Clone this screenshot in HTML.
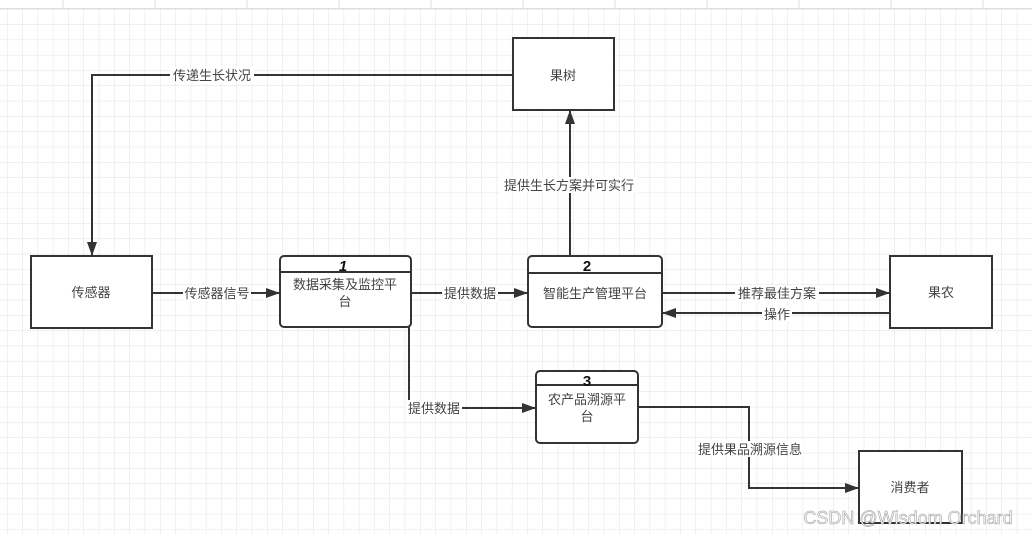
<!DOCTYPE html>
<html><head><meta charset="utf-8"><style>
html,body{margin:0;padding:0;background:#fff;}
body{width:1032px;height:534px;overflow:hidden;}
text{font-family:"Liberation Sans","Noto Sans CJK SC",sans-serif;}
</style></head><body>
<svg width="1032" height="534" xmlns="http://www.w3.org/2000/svg">
<defs>
<pattern id="g" x="7" y="9" width="15.3" height="15.3" patternUnits="userSpaceOnUse">
<path d="M0 0H15.3M0 0V15.3" stroke="#e2e2e2" stroke-width="1" fill="none"/>
</pattern>
<marker id="a" markerWidth="14" markerHeight="10" refX="13" refY="5" orient="auto" markerUnits="userSpaceOnUse">
<path d="M0 0L14 5L0 10Z" fill="#333"/>
</marker>
</defs>
<rect width="1032" height="534" fill="url(#g)"/>
<rect width="1032" height="8" fill="#fff"/>
<line x1="0" y1="8.5" x2="1032" y2="8.5" stroke="#ddd"/>
<g stroke="#ddd"><line x1="63" y1="0" x2="63" y2="8"/><line x1="155" y1="0" x2="155" y2="8"/><line x1="247" y1="0" x2="247" y2="8"/><line x1="339" y1="0" x2="339" y2="8"/><line x1="431" y1="0" x2="431" y2="8"/><line x1="523" y1="0" x2="523" y2="8"/><line x1="615" y1="0" x2="615" y2="8"/><line x1="707" y1="0" x2="707" y2="8"/><line x1="799" y1="0" x2="799" y2="8"/><line x1="891" y1="0" x2="891" y2="8"/><line x1="983" y1="0" x2="983" y2="8"/></g>

<g fill="#fff" stroke="#333" stroke-width="2">
<rect x="513" y="38" width="101" height="72"/>
<rect x="31" y="256" width="121" height="72"/>
<rect x="890" y="256" width="102" height="72"/>
<rect x="859" y="451" width="103" height="72"/>
<rect x="280" y="256" width="131" height="71" rx="4"/>
<rect x="528" y="256" width="134" height="71" rx="4"/>
<rect x="536" y="371" width="102" height="72" rx="4"/>
<line x1="280" y1="272" x2="411" y2="272"/>
<line x1="528" y1="273" x2="662" y2="273"/>
<line x1="536" y1="385" x2="638" y2="385"/>
</g>

<g stroke="#333" stroke-width="2" fill="none">
<polyline points="513,75 92,75 92,255" marker-end="url(#a)"/>
<line x1="152" y1="293" x2="279" y2="293" marker-end="url(#a)"/>
<line x1="411" y1="293" x2="527" y2="293" marker-end="url(#a)"/>
<line x1="570" y1="256" x2="570" y2="111" marker-end="url(#a)"/>
<line x1="662" y1="293" x2="889" y2="293" marker-end="url(#a)"/>
<line x1="890" y1="313" x2="663" y2="313" marker-end="url(#a)"/>
<polyline points="409,327 409,408 535,408" marker-end="url(#a)"/>
<polyline points="638,407 749,407 749,488 858,488" marker-end="url(#a)"/>
</g>

<g font-size="13" fill="#444" text-anchor="middle">
<rect x="170" y="67" width="84" height="16" fill="#fff"/>
<text x="212" y="80">传递生长状况</text>
<rect x="183" y="285" width="68" height="16" fill="#fff"/>
<text x="217" y="298">传感器信号</text>
<rect x="442" y="285" width="56" height="16" fill="#fff"/>
<text x="470" y="298">提供数据</text>
<rect x="500" y="177" width="138" height="16" fill="#fff"/>
<text x="569" y="190">提供生长方案并可实行</text>
<rect x="735" y="285" width="84" height="16" fill="#fff"/>
<text x="777" y="298">推荐最佳方案</text>
<rect x="762" y="306" width="30" height="16" fill="#fff"/>
<text x="777" y="319">操作</text>
<rect x="406" y="400" width="56" height="16" fill="#fff"/>
<text x="434" y="413">提供数据</text>
<rect x="697" y="441" width="106" height="16" fill="#fff"/>
<text x="750" y="454">提供果品溯源信息</text>
<text x="563" y="80">果树</text>
<text x="91" y="297">传感器</text>
<text x="941" y="297">果农</text>
<text x="910" y="492">消费者</text>
<text x="345" y="289">数据采集及监控平</text>
<text x="345" y="306">台</text>
<text x="595" y="298">智能生产管理平台</text>
<text x="587" y="404">农产品溯源平</text>
<text x="587" y="421">台</text>
</g>
<g font-size="15" font-weight="bold" fill="#111" text-anchor="middle">
<text x="343" y="271" font-style="italic">1</text>
<text x="587" y="271">2</text>
<text x="587" y="386">3</text>
</g>
<text x="908" y="524" font-size="18" fill="#f4f4f4" stroke="#999" stroke-width="0.5" text-anchor="middle">CSDN @Wisdom Orchard</text>
</svg>
</body></html>
